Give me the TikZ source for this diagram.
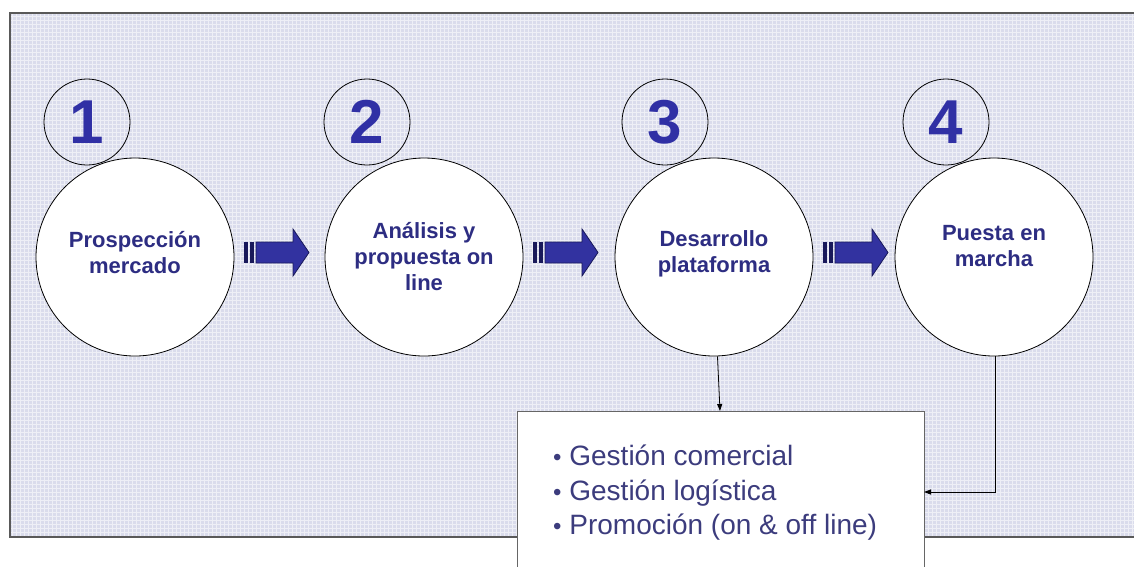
\documentclass[tikz,border=0pt]{standalone}
\usepackage{fontspec}
\setmainfont{Liberation Sans}
\usetikzlibrary{arrows.meta}
\definecolor{fondo}{RGB}{218,220,236}
\definecolor{numazul}{RGB}{48,48,165}
\definecolor{textazul}{RGB}{45,45,130}
\definecolor{listazul}{RGB}{60,60,125}
\definecolor{flechaazul}{RGB}{50,50,160}
\definecolor{flechaborde}{RGB}{25,25,90}
\newcommand{\flecha}[1]{%
  \fill[flechaborde] (#1,241.5) rectangle ++(3.5,21.5);
  \fill[flechaborde] (#1+6,241.5) rectangle ++(4,21.5);
  \filldraw[fill=flechaazul, draw=flechaborde, line width=0.8pt]
    (#1+12,242) -- (#1+49,242) -- (#1+49,229) -- (#1+65,252.5)
    -- (#1+49,276) -- (#1+49,263) -- (#1+12,263) -- cycle;
}
\newcommand{\punto}{{\fontsize{24}{24}\selectfont•}}
\begin{document}
\begin{tikzpicture}[x=1pt, y=-1pt,
    numcirc/.style={circle, draw, line width=0.8pt, minimum size=86pt,
      inner sep=0pt, text=numazul, font=\fontsize{62}{62}\selectfont\bfseries},
    bigcirc/.style={circle, draw, line width=0.8pt, fill=white,
      minimum size=198pt, inner sep=0pt},
    circtext/.style={align=center, text=textazul,
      font=\fontsize{22}{26}\selectfont\bfseries},
    conn/.style={line width=0.8pt, -{Triangle[length=7pt,width=5pt]}}]
  \useasboundingbox (0,0) rectangle (1134,566);
  % fondo
  \fill[fondo] (10,13) rectangle (1140,537);
  \draw[white, line width=0.6pt, opacity=0.55, step=4pt]
    (10pt,-537pt) grid (1134pt,-13pt);
  \draw[gray!70!black, line width=1.2pt] (1140,13) -- (10,13) -- (10,537) -- (1140,537);
  % circulos numerados
  \node[numcirc] (n1) at (87,122) {1};
  \node[numcirc] (n2) at (367,122) {2};
  \node[numcirc] (n3) at (665,122) {3};
  \node[numcirc] (n4) at (946,122) {4};
  % etapas
  \node[bigcirc] (c1) at (135,257) {};
  \node[bigcirc] (c2) at (424,257) {};
  \node[bigcirc] (c3) at (714,257) {};
  \node[bigcirc] (c4) at (994,257) {};
  \node[circtext] (e1) at ([yshift=4pt]c1) {Prospección\\mercado};
  \node[circtext] (e2) at (c2) {Análisis y\\propuesta on\\line};
  \node[circtext] (e3) at ([yshift=3pt]c3) {Desarrollo\\plataforma};
  \node[circtext] (e4) at ([yshift=11pt]c4) {Puesta en\\marcha};
  % flechas
  \flecha{244}
  \flecha{533}
  \flecha{823}
  % recuadro
  \node[draw=gray!80!black, line width=1pt, fill=white, anchor=north west,
    minimum width=407pt, minimum height=180pt, inner sep=0pt] (box) at (517,411) {};
  \node[anchor=north west, align=left, inner sep=0pt, text=listazul,
    font=\fontsize{28}{34.5}\selectfont] (lista) at (553,445)
    {\punto\ Gestión comercial\\
     \punto\ Gestión logística\\
     \punto\ Promoción (on \& off line)};
  \coordinate (t3) at (720,411);
  \coordinate (t4) at (924,492);
  \draw[conn] (c3.-88) -- (t3);
  \draw[conn] (c4.-89) |- (t4);
\end{tikzpicture}
\end{document}
